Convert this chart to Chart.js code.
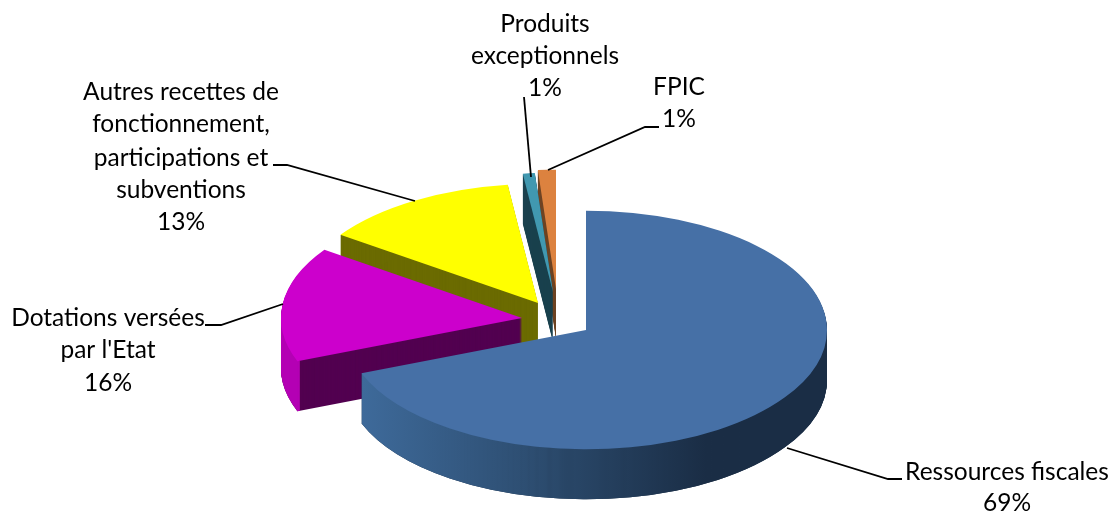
<!DOCTYPE html>
<html>
<head>
<meta charset="utf-8">
<style>
  html, body { margin: 0; padding: 0; background: #fff; }
  canvas { display: block; }
</style>
<script src="https://cdn.jsdelivr.net/npm/chart.js@4/dist/chart.umd.js"></script>
</head>
<body>
<canvas id="pieChart" width="1117" height="515"></canvas>
<script>
const categories = ["Ressources fiscales", "Dotations versées par l'Etat", "Autres recettes de fonctionnement, participations et subventions", "Produits exceptionnels", "FPIC"];
const shareValues = [69.1, 15.6, 13.3, 0.8, 1.2];
const percentLabels = ["69%", "16%", "13%", "1%", "1%"];

const topColors = ["#4670a6", "#cc00cc", "#ffff00", "#4198b0", "#dc823f"];
const cutColors = ["#1c3048", "#520050", "#6b6b00", "#1a404e", "#6e4424"];
const wallColors = [null, "#b400b4", "#6b6b00", "#1a404e", "#6e4424"];

// the pie is squashed and each slice pulled out by hand, like the Excel 3D pie
const flatten = 0.495;
const depth = 50;
const apexX = [586, 522, 538, 553, 556];
const apexY = [330, 318, 303, 292, 289];
const drawOrder = [4, 3, 2, 1, 0];

const labelBlocks = [
  { x: 1007, y: [472, 503], text: ["Ressources fiscales", percentLabels[0]] },
  { x: 108, y: [318, 350, 383], text: ["Dotations versées", "par l'Etat", percentLabels[1]] },
  { x: 181, y: [92, 124, 158, 190, 222], text: ["Autres recettes de", "fonctionnement,", "participations et", "subventions", percentLabels[2]] },
  { x: 545, y: [24, 56, 88], text: ["Produits", "exceptionnels", percentLabels[3]] },
  { x: 679, y: [87, 119], text: ["FPIC", percentLabels[4]] }
];
const leaders = [
  [[787, 448], [888, 479], [902, 479]],
  [[283, 304], [221, 325], [205, 325]],
  [[415, 201], [287, 165], [273, 165]],
  [[531, 177], [524, 97]],
  [[548, 170], [645, 127], [659, 127]]
];

function drawSlice(ctx, el, i, shift, color, ringOnly) {
  const saved = el.options;
  const savedInner = el.innerRadius;
  el.options = Object.assign({}, saved, { backgroundColor: color });
  if (ringOnly) el.innerRadius = el.outerRadius - 3;
  ctx.save();
  ctx.translate(apexX[i], apexY[i] + shift);
  ctx.scale(1, flatten);
  ctx.translate(-el.x, -el.y);
  el.draw(ctx);
  ctx.restore();
  el.options = saved;
  el.innerRadius = savedInner;
}

const pie3d = {
  id: "pie3d",
  beforeDatasetsDraw(chart) {
    const ctx = chart.ctx;
    const arcs = chart.getDatasetMeta(0).data;

    drawOrder.forEach(i => {
      const el = arcs[i];
      let wall = wallColors[i];
      if (i === 0) {
        wall = ctx.createLinearGradient(el.x - 224, 0, el.x + 120, 0);
        wall.addColorStop(0, "#3e6a9a");
        wall.addColorStop(0.55, "#2b4a6c");
        wall.addColorStop(1, "#1a2d45");
      }
      for (let s = depth; s >= 1; s--) {
        drawSlice(ctx, el, i, s, cutColors[i], false);
      }
      for (let s = depth; s >= 1; s--) {
        drawSlice(ctx, el, i, s, wall, true);
      }
      drawSlice(ctx, el, i, 0, topColors[i], false);
    });
    return false;
  },
  afterDraw(chart) {
    const ctx = chart.ctx;
    ctx.save();
    ctx.strokeStyle = "#000";
    ctx.lineWidth = 1.8;
    leaders.forEach(pts => {
      ctx.beginPath();
      pts.forEach((p, n) => n ? ctx.lineTo(p[0], p[1]) : ctx.moveTo(p[0], p[1]));
      ctx.stroke();
    });
    ctx.fillStyle = "#000";
    ctx.font = "24.5px Lato";
    ctx.textAlign = "center";
    ctx.textBaseline = "middle";
    labelBlocks.forEach(b => {
      b.text.forEach((t, n) => ctx.fillText(t, b.x, b.y[n]));
    });
    ctx.restore();
  }
};

new Chart(document.getElementById("pieChart"), {
  type: "pie",
  data: {
    labels: categories,
    datasets: [{
      data: shareValues,
      backgroundColor: topColors,
      borderWidth: 0,
      radius: 241
    }]
  },
  options: {
    responsive: false,
    animation: false,
    plugins: { legend: { display: false }, tooltip: { enabled: false } }
  },
  plugins: [pie3d]
});
</script>
</body>
</html>
